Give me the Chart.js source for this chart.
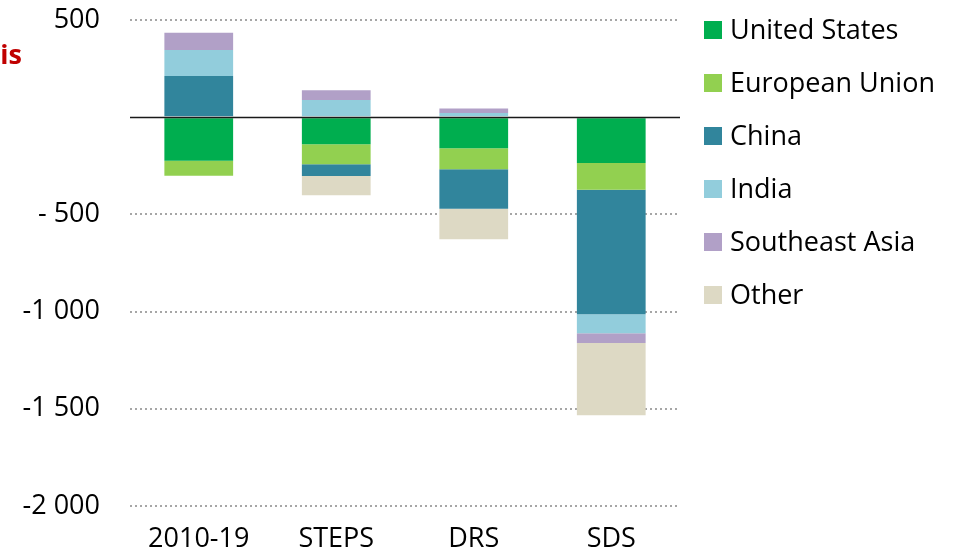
<!DOCTYPE html>
<html>
<head>
<meta charset="utf-8">
<script src="https://cdn.jsdelivr.net/npm/chart.js@4.4.1/dist/chart.umd.min.js"></script>
<style>
  html, body { margin: 0; padding: 0; background: #fff; }
  #wrap { width: 955px; height: 552px; position: relative; }
</style>
</head>
<body>
<div id="wrap"><canvas id="grafico"></canvas></div>
<script>
// datos
const escenarios = ["2010-19", "STEPS", "DRS", "SDS"];
const estadosUnidos = [-224, -139, -160, -236];
const unionEuropea  = [-77, -103, -108, -137];
const china         = [212, -60, -203, -640];
const india         = [134, 88, 21, -98];
const sudesteAsia   = [88, 50, 24, -50];
const otros         = [0, -100, -157, -372];
const ticksY = [500, 0, -500, -1000, -1500, -2000];

const FUENTE = "'Open Sans', 'Noto Sans', sans-serif";

function etiquetaY(v) {
  if (v === 0) return "";
  if (v === -500) return "- 500";
  const abs = Math.abs(v);
  const txt = abs >= 1000 ? Math.floor(abs / 1000) + " " + String(abs % 1000).padStart(3, "0") : String(abs);
  return (v < 0 ? "-" : "") + txt;
}

// linea del cero, leyenda a la derecha y texto rojo cortado
const extras = {
  id: "extras",
  afterDatasetsDraw(chart) {
    const { ctx, chartArea, scales } = chart;
    const y0 = Math.round(scales.y.getPixelForValue(0)) + 0.5;
    ctx.save();
    ctx.strokeStyle = "#1a1a1a";
    ctx.lineWidth = 1.5;
    ctx.beginPath();
    ctx.moveTo(chartArea.left, y0);
    ctx.lineTo(chartArea.right, y0);
    ctx.stroke();

    ctx.fillStyle = "#c00000";
    ctx.font = "bold 27px " + FUENTE;
    ctx.textAlign = "right";
    ctx.textBaseline = "middle";
    ctx.fillText("basis", 22, 56);

    // leyenda
    ctx.font = "27px " + FUENTE;
    ctx.textAlign = "left";
    chart.data.datasets.forEach((ds, i) => {
      const yc = 30 + i * 53;
      ctx.fillStyle = ds.backgroundColor;
      ctx.fillRect(704, yc - 9, 18, 18);
      ctx.fillStyle = "#000";
      ctx.fillText(ds.label, 730, yc + 1);
    });
    ctx.restore();
  }
};

const serie = (label, data, color) => ({
  label, data, backgroundColor: color, borderWidth: 0, barPercentage: 0.5, categoryPercentage: 1
});

new Chart(document.getElementById("grafico"), {
  type: "bar",
  data: {
    labels: escenarios,
    datasets: [
      serie("United States", estadosUnidos, "#00ae4f"),
      serie("European Union", unionEuropea, "#92d050"),
      serie("China", china, "#31859c"),
      serie("India", india, "#92cddc"),
      serie("Southeast Asia", sudesteAsia, "#b1a0c7"),
      serie("Other", otros, "#ddd9c4")
    ]
  },
  options: {
    responsive: true,
    maintainAspectRatio: false,
    animation: false,
    layout: { padding: { top: 0, right: 275, left: 0, bottom: 0 } },
    plugins: {
      legend: { display: false },
      tooltip: { enabled: false }
    },
    scales: {
      x: {
        stacked: true,
        grid: { display: false, drawTicks: false },
        border: { display: false },
        ticks: { color: "#000", padding: 17, font: { size: 27, family: FUENTE } },
        afterFit(axis) { axis.height = 46; }
      },
      y: {
        stacked: true,
        min: -2000,
        max: 500,
        afterBuildTicks(axis) { axis.ticks = ticksY.map(v => ({ value: v })); },
        grid: {
          drawTicks: false,
          lineWidth: 2,
          color: ctx => (ctx.tick && ctx.tick.value === 0) ? "rgba(0,0,0,0)" : "#a6a6a6"
        },
        border: { display: false, dash: [2, 3] },
        ticks: {
          color: "#000",
          padding: 30,
          font: { size: 27, family: FUENTE },
          callback: v => etiquetaY(v)
        },
        afterFit(axis) {
          axis.width = 130;
          axis.paddingTop = 20;
          axis.paddingBottom = 0;
        }
      }
    }
  },
  plugins: [extras]
});
</script>
</body>
</html>
